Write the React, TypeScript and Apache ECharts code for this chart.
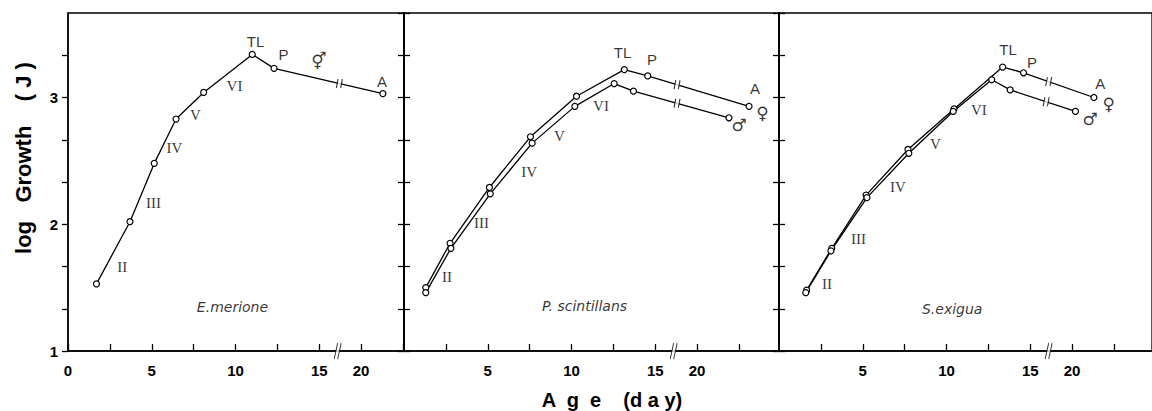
import React, { useEffect, useRef } from "react";
import * as echarts from "echarts";

// ---------- data (age in days, log growth in J) ----------
const BREAK_SHIFT = 2.5; // days hidden by the axis break (15 -> 20)
const toAxis = (d: number) => (d > 16.5 ? d - BREAK_SHIFT : d);

// E. merione (single line)
const emAge = [1.7, 3.7, 5.15, 6.45, 8.1, 11.0, 12.3, 21.3];
const emLog = [1.53, 2.02, 2.48, 2.83, 3.04, 3.34, 3.23, 3.03];

// P. scintillans: female (upper), male (lower)
const psFAge = [1.3, 2.75, 5.1, 7.55, 10.3, 13.15, 14.55, 23.1];
const psFLog = [1.5, 1.85, 2.29, 2.69, 3.01, 3.22, 3.17, 2.93];
const psMAge = [1.3, 2.8, 5.15, 7.65, 10.2, 12.55, 13.7, 21.9];
const psMLog = [1.46, 1.81, 2.24, 2.64, 2.93, 3.11, 3.05, 2.84];

// S. exigua: female (upper), male (lower)
const seFAge = [1.65, 3.15, 5.2, 7.7, 10.45, 13.35, 14.6, 21.3];
const seFLog = [1.48, 1.81, 2.23, 2.59, 2.91, 3.24, 3.195, 3.0];
const seMAge = [1.6, 3.1, 5.25, 7.75, 10.4, 12.7, 13.8, 20.2];
const seMLog = [1.46, 1.79, 2.21, 2.56, 2.89, 3.14, 3.06, 2.89];

// tick labels
const xTickDays = [0, 5, 10, 15, 20];
const xTickTexts = ["0", "5", "10", "15", "20"];
const yTickValues = [1, 2, 3];
const yTickTexts = ["1", "2", "3"];

const panelNames = ["E.merione", "P. scintillans", "S.exigua"];
const stageNames = ["II", "III", "IV", "V", "VI"];

// annotation anchors (axis units)
const emStagePos = [[3.24, 1.66], [5.1, 2.17], [6.35, 2.6], [7.6, 2.86], [9.94, 3.09]];
const psStagePos = [[2.57, 1.58], [4.63, 2.01], [7.47, 2.41], [9.28, 2.7], [11.76, 2.93]];
const seStagePos = [[2.86, 1.53], [4.75, 1.88], [7.1, 2.29], [9.34, 2.63], [11.93, 2.9]];
const namePos = [[9.82, 1.35], [10.78, 1.355], [10.34, 1.33]];

// ---------- layout ----------
const PX_PER_UNIT = 16.75;
const gridLeft = [68, 404, 779];
const gridWidth = [336, 375, 373];
const GRID_TOP = 13;
const GRID_H = 338;
const Y_MIN = 1;
const Y_MAX = 11 / 3;
const AXIS_BREAK_U = 16.1;

const sans = "Liberation Sans";

export default function App() {
  const ref = useRef<HTMLDivElement>(null);

  useEffect(() => {
    if (!ref.current) return;
    const chart = echarts.init(ref.current, null, { renderer: "svg" });

    const grids = gridLeft.map((l, i) => ({
      left: l,
      top: GRID_TOP,
      width: gridWidth[i],
      height: GRID_H,
      show: true,
      borderColor: "#000",
      borderWidth: 1.3,
      backgroundColor: "transparent",
    }));

    const xAxes = gridLeft.map((_, i) => ({
      type: "value",
      gridIndex: i,
      min: 0,
      max: gridWidth[i] / PX_PER_UNIT,
      interval: 2.5,
      axisLine: { show: true, lineStyle: { color: "#000", width: 1.5 } },
      axisTick: { show: true, inside: true, length: 7, lineStyle: { color: "#000", width: 1.3 } },
      splitLine: { show: false },
      axisLabel: {
        show: true,
        margin: 12,
        color: "#000",
        fontFamily: sans,
        fontWeight: "bold",
        fontSize: 15,
        showMaxLabel: false,
        showMinLabel: i === 0,
        formatter: (v: number) => {
          for (let k = 0; k < xTickDays.length; k++) {
            if (Math.abs(toAxis(xTickDays[k]) - v) < 0.01) {
              if (i > 0 && xTickDays[k] === 0) return "";
              return xTickTexts[k];
            }
          }
          return "";
        },
      },
    }));

    const yAxes: any[] = [];
    gridLeft.forEach((_, i) => {
      yAxes.push({
        type: "value",
        gridIndex: i,
        position: "left",
        min: Y_MIN,
        max: Y_MAX,
        interval: 1 / 3,
        axisLine: { show: true, lineStyle: { color: "#000", width: 1.5 } },
        axisTick: { show: true, inside: false, length: 6, lineStyle: { color: "#000", width: 1.3 } },
        splitLine: { show: false },
        axisLabel: {
          show: i === 0,
          margin: 10,
          color: "#000",
          fontFamily: sans,
          fontWeight: "bold",
          fontSize: 15,
          showMaxLabel: false,
          formatter: (v: number) => {
            for (let k = 0; k < yTickValues.length; k++) {
              if (Math.abs(yTickValues[k] - v) < 0.01) return yTickTexts[k];
            }
            return "";
          },
        },
      });
      if (i < 2) {
        yAxes.push({
          type: "value",
          gridIndex: i,
          position: "right",
          min: Y_MIN,
          max: Y_MAX,
          interval: 1 / 3,
          axisLine: { show: true, lineStyle: { color: "#000", width: 1.5 } },
          axisTick: { show: true, inside: false, length: 6, lineStyle: { color: "#000", width: 1.3 } },
          splitLine: { show: false },
          axisLabel: { show: false },
        });
      }
    });
    const leftYIndex = [0, 2, 4];

    const series: any[] = [];

    const coverPath = "path://M2,0 L7,0 L5,10 L0,10 Z";
    const strokePath = "path://M2,0 L0,10 M7,0 L5,10";

    const addLine = (gi: number, ages: number[], logs: number[], breakU: number) => {
      const pts = ages.map((d, k) => [toAxis(d), logs[k]]);
      const a = pts[pts.length - 2];
      const b = pts[pts.length - 1];
      const t = (breakU - a[0]) / (b[0] - a[0]);
      const by = a[1] + t * (b[1] - a[1]);
      series.push({
        type: "line",
        xAxisIndex: gi,
        yAxisIndex: leftYIndex[gi],
        data: pts,
        symbol: "circle",
        symbolSize: 6,
        showSymbol: true,
        lineStyle: { color: "#000", width: 1.3 },
        itemStyle: { color: "#fff", borderColor: "#000", borderWidth: 1.2 },
        z: 3,
        silent: true,
      });
      series.push({
        type: "scatter",
        xAxisIndex: gi,
        yAxisIndex: leftYIndex[gi],
        data: [[breakU, by]],
        symbol: coverPath,
        symbolSize: [6, 9],
        itemStyle: { color: "#fff", borderWidth: 0 },
        z: 4,
        silent: true,
      });
      series.push({
        type: "scatter",
        xAxisIndex: gi,
        yAxisIndex: leftYIndex[gi],
        data: [[breakU, by]],
        symbol: strokePath,
        symbolSize: [6, 9],
        itemStyle: { color: "none", borderColor: "#000", borderWidth: 1.3 },
        z: 5,
        silent: true,
      });
    };

    addLine(0, emAge, emLog, 16.2);
    addLine(1, psFAge, psFLog, 16.3);
    addLine(1, psMAge, psMLog, 16.3);
    addLine(2, seFAge, seFLog, 16.1);
    addLine(2, seMAge, seMLog, 15.95);

    // axis breaks on the x axes
    gridLeft.forEach((_, gi) => {
      series.push({
        type: "scatter",
        xAxisIndex: gi,
        yAxisIndex: leftYIndex[gi],
        clip: false,
        data: [[AXIS_BREAK_U, Y_MIN]],
        symbol: "path://M4,0 L8,0 L4,14 L0,14 Z",
        symbolSize: [7, 16],
        itemStyle: { color: "#fff", borderWidth: 0 },
        z: 6,
        silent: true,
      });
      series.push({
        type: "scatter",
        xAxisIndex: gi,
        yAxisIndex: leftYIndex[gi],
        clip: false,
        data: [[AXIS_BREAK_U, Y_MIN]],
        symbol: "path://M4,0 L0,14 M8,0 L4,14",
        symbolSize: [7, 16],
        itemStyle: { color: "none", borderColor: "#000", borderWidth: 1.3 },
        z: 7,
        silent: true,
      });
    });

    // annotations
    const styles: Record<string, any> = {
      roman: { fontFamily: "Liberation Serif", fontSize: 15 },
      stage: { fontFamily: sans, fontSize: 15 },
      sex: { fontFamily: "DejaVu Sans", fontSize: 17, fontWeight: "bold" },
      name: { fontFamily: "DejaVu Sans", fontSize: 14, fontStyle: "italic" },
    };
    const addText = (gi: number, items: { t: string; u: number; v: number; k: string }[]) => {
      series.push({
        type: "scatter",
        xAxisIndex: gi,
        yAxisIndex: leftYIndex[gi],
        symbolSize: 0,
        clip: false,
        silent: true,
        z: 8,
        itemStyle: { color: "#000" },
        data: items.map((it) => ({
          value: [it.u, it.v],
          name: it.t,
          label: {
            show: true,
            position: "inside",
            formatter: "{b}",
            align: "center",
            verticalAlign: "middle",
            color: "#000",
            textBorderWidth: 0,
            textBorderColor: "transparent",
            ...styles[it.k],
          },
        })),
      });
    };

    const stageItems = (pos: number[][]) =>
      stageNames.map((t, k) => ({ t, u: pos[k][0], v: pos[k][1], k: "roman" }));

    addText(0, [
      ...stageItems(emStagePos),
      { t: "TL", u: 11.2, v: 3.44, k: "stage" },
      { t: "P", u: 12.86, v: 3.34, k: "stage" },
      { t: "A", u: 18.75, v: 3.13, k: "stage" },
      { t: "\u26A5", u: 14.98, v: 3.29, k: "sex" },
      { t: panelNames[0], u: namePos[0][0], v: namePos[0][1], k: "name" },
    ]);
    addText(1, [
      ...stageItems(psStagePos),
      { t: "TL", u: 13.05, v: 3.355, k: "stage" },
      { t: "P", u: 14.81, v: 3.3, k: "stage" },
      { t: "A", u: 20.96, v: 3.07, k: "stage" },
      { t: "\u2640", u: 21.4, v: 2.88, k: "sex" },
      { t: "\u2642", u: 20.0, v: 2.78, k: "sex" },
      { t: panelNames[1], u: namePos[1][0], v: namePos[1][1], k: "name" },
    ]);
    addText(2, [
      ...stageItems(seStagePos),
      { t: "TL", u: 13.67, v: 3.38, k: "stage" },
      { t: "P", u: 15.1, v: 3.28, k: "stage" },
      { t: "A", u: 19.18, v: 3.11, k: "stage" },
      { t: "\u2640", u: 19.68, v: 2.95, k: "sex" },
      { t: "\u2642", u: 18.58, v: 2.83, k: "sex" },
      { t: panelNames[2], u: namePos[2][0], v: namePos[2][1], k: "name" },
    ]);

    chart.setOption({
      animation: false,
      backgroundColor: "#fff",
      grid: grids,
      xAxis: xAxes,
      yAxis: yAxes,
      series,
      graphic: [
        {
          type: "text",
          x: 23,
          y: 158,
          rotation: Math.PI / 2,
          style: {
            text: "log   Growth    ( J )",
            font: `bold 22px "${sans}"`,
            fill: "#000",
            textAlign: "center",
            textVerticalAlign: "middle",
          },
        },
        {
          type: "text",
          x: 612,
          y: 400,
          style: {
            text: "A  g  e    (d a y)",
            font: `bold 20px "${sans}"`,
            fill: "#000",
            textAlign: "center",
            textVerticalAlign: "middle",
          },
        },
      ],
    });

    return () => chart.dispose();
  }, []);

  return (
    <div
      ref={ref}
      style={{ position: "fixed", left: 0, top: 0, width: 1152, height: 411, background: "#fff" }}
    />
  );
}
